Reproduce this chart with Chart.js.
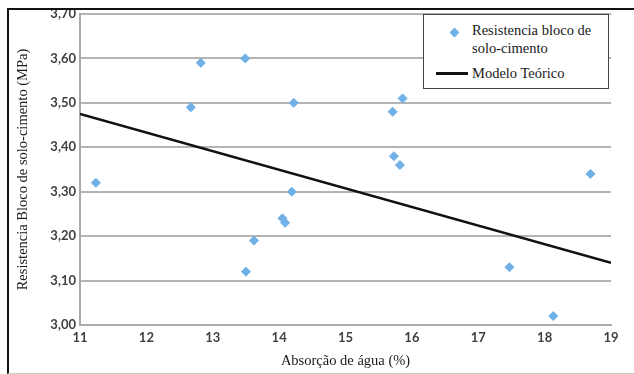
<!DOCTYPE html>
<html>
<head>
<meta charset="utf-8">
<script src="https://cdn.jsdelivr.net/npm/chart.js@4.4.1/dist/chart.umd.min.js"></script>
<style>
  html, body { margin: 0; padding: 0; background: #fff; }
  #wrap { position: relative; width: 634px; height: 374px; overflow: hidden; }
  #c { position: absolute; left: 0; top: 0; }
  #frame { position: absolute; left: 7px; top: 8px; width: 640px; height: 363px;
           border-top: 2px solid #111; border-left: 2px solid #111; border-bottom: 1px solid #ccc; pointer-events: none; }
  #legend { position: absolute; left: 423px; top: 14px; width: 184px; height: 73px;
            border: 1.5px solid #444; background: #fff;
            font-family: "Liberation Serif", "Times New Roman", serif; font-size: 14.5px; color: #1a1a1a; }
  #legend .row { position: absolute; left: 48px; line-height: 16px; }
  #legend .dia { position: absolute; left: 27px; top: 14px; width: 7px; height: 7px; background: #6FB0E6; transform: rotate(45deg); }
  #legend .ln { position: absolute; left: 12px; top: 57px; width: 32px; height: 3px; background: #111; }
</style>
</head>
<body>
<div id="wrap">
  <canvas id="c" width="634" height="374"></canvas>
  <div id="frame"></div>
  <div id="legend">
    <div class="dia"></div>
    <div class="row" style="top:7px">Resistencia bloco de</div>
    <div class="row" style="top:25px">solo-cimento</div>
    <div class="ln"></div>
    <div class="row" style="top:50px">Modelo Teórico</div>
  </div>
</div>
<script>
// Measured points: water absorption (%) and block strength (MPa)
const absorption = [11.24, 12.67, 12.82, 13.49, 14.22, 14.19, 14.05, 14.09, 13.62, 13.50, 15.71, 15.86, 15.73, 15.82, 18.69, 17.47, 18.13];
const strength   = [3.32, 3.49, 3.59, 3.60, 3.50, 3.30, 3.24, 3.23, 3.19, 3.12, 3.48, 3.51, 3.38, 3.36, 3.34, 3.13, 3.02];
// Theoretical model line endpoints
const modelX = [11, 19];
const modelY = [3.475, 3.14];
const seriesNames = ["Resistencia bloco de solo-cimento", "Modelo Teórico"];
const xTitle = "Absorção de água (%)";
const yTitle = "Resistencia Bloco de solo-cimento (MPa)";

const tickFont = { family: "Lato, 'Open Sans', sans-serif", size: 13, weight: "bold" };

new Chart(document.getElementById("c"), {
  type: "scatter",
  data: {
    datasets: [
      {
        label: seriesNames[0],
        data: absorption.map((x, i) => ({ x, y: strength[i] })),
        pointStyle: "rectRot",
        pointRadius: 4.5,
        backgroundColor: "#6FB0E6",
        borderColor: "#6FB0E6",
        order: 2
      },
      {
        label: seriesNames[1],
        type: "line",
        data: modelX.map((x, i) => ({ x, y: modelY[i] })),
        borderColor: "#111",
        borderWidth: 2.5,
        pointRadius: 0,
        fill: false,
        order: 1
      }
    ]
  },
  options: {
    responsive: false,
    animation: false,
    layout: { padding: { left: 10, top: 14, right: 23, bottom: 0 } },
    plugins: { legend: { display: false }, tooltip: { enabled: false } },
    scales: {
      x: {
        type: "linear", min: 11, max: 19,
        ticks: { stepSize: 1, color: "#404040", font: tickFont, padding: 5 },
        grid: { display: false, drawTicks: false },
        border: { display: true, color: "#aaa", width: 2 },
        title: { display: true, text: xTitle, color: "#1a1a1a",
                 font: { family: "'Liberation Serif', 'Times New Roman', serif", size: 14.5 }, padding: { top: 2 } },
        afterFit: s => { s.height = 49; }
      },
      y: {
        min: 3.0, max: 3.7,
        ticks: { stepSize: 0.1, color: "#404040", font: tickFont, padding: 4,
                 callback: v => v.toFixed(2).replace(".", ",") },
        grid: { color: "#b4b4b4", lineWidth: 2, drawTicks: false },
        border: { display: true, color: "#aaa", width: 2 },
        title: { display: true, text: yTitle, color: "#1a1a1a",
                 font: { family: "'Liberation Serif', 'Times New Roman', serif", size: 14.5 }, padding: { bottom: 4 } },
        afterFit: s => { s.width = 70; }
      }
    }
  }
});
</script>
</body>
</html>
